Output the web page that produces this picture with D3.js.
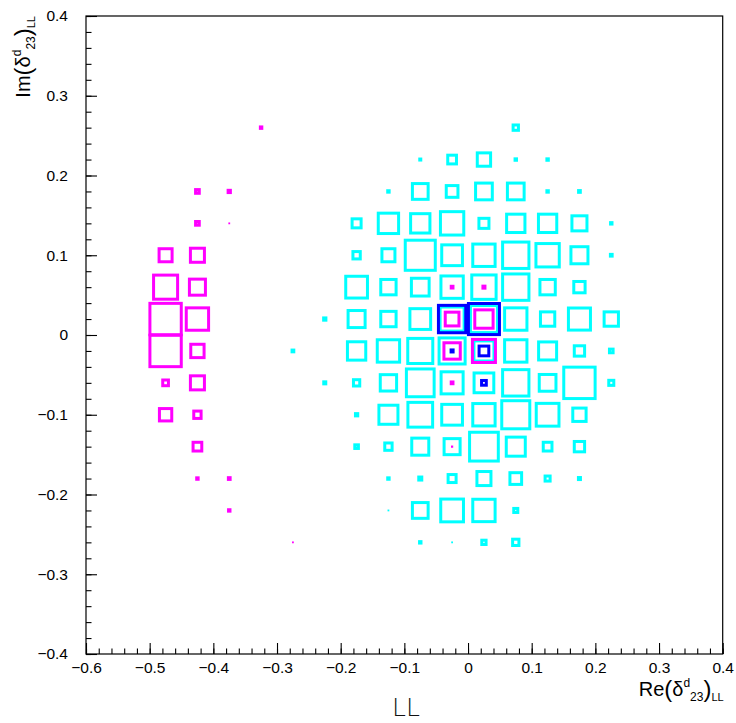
<!DOCTYPE html>
<html><head><meta charset="utf-8">
<script src="https://cdn.jsdelivr.net/npm/d3@7"></script>
<style>body{margin:0;background:#fff}svg{display:block}</style>
</head><body>
<svg id="c" width="736" height="723"></svg>
<script>
// ---- data ----
const xDomain = [-0.6, 0.4];
const yDomain = [-0.4, 0.4];
const xTicks = [-0.6,-0.5,-0.4,-0.3,-0.2,-0.1,0,0.1,0.2,0.3,0.4];
const yTicks = [-0.4,-0.3,-0.2,-0.1,0,0.1,0.2,0.3,0.4];
const xBinWidth = 0.05, yBinWidth = 0.04;
const maxContent = 100;
// [x bin centre, y bin centre, bin content]
const cyanBins = [
 [0.075,0.26,2.8],
 [-0.075,0.22,0.1],[-0.025,0.22,7.5],[0.025,0.22,17.5],[0.075,0.22,0.2],[0.125,0.22,0.2],
 [-0.125,0.18,0.2],[-0.075,0.18,24.4],[-0.025,0.18,13.5],[0.025,0.18,27.6],[0.075,0.18,27.6],[0.125,0.18,0.2],[0.175,0.18,0.3],
 [-0.175,0.14,8.0],[-0.125,0.14,40.8],[-0.075,0.14,36.8],[-0.025,0.14,53.7],[0.025,0.14,9.9],[0.075,0.14,33.1],[0.125,0.14,33.1],[0.175,0.14,22.3],[0.225,0.14,0.2],
 [-0.175,0.10,5.3],[-0.125,0.10,16.7],[-0.075,0.10,89],[-0.025,0.10,42.4],[0.025,0.10,49.2],[0.075,0.10,68.4],[0.125,0.10,53.7],[0.175,0.10,28.6],[0.225,0.10,0.3],
 [-0.175,0.06,46.6],[-0.125,0.06,23.2],[-0.075,0.06,31],[-0.025,0.06,49.2],[0.025,0.06,58.4],[0.075,0.06,68.4],[0.125,0.06,23.2],[0.175,0.06,12.6],
 [-0.225,0.02,0.5],[-0.175,0.02,28.6],[-0.125,0.02,23.2],[-0.075,0.02,42.4],[-0.025,0.02,57],[0.025,0.02,72],[0.075,0.02,49.2],[0.125,0.02,20.2],[0.175,0.02,47.9],[0.225,0.02,20.2],
 [-0.275,-0.02,0.3],[-0.175,-0.02,33.1],[-0.125,-0.02,49.2],[-0.075,-0.02,61.8],[-0.025,-0.02,66.9],[0.025,-0.02,39.6],[0.075,-0.02,49.2],[0.125,-0.02,32],[0.175,-0.02,10.5],[0.225,-0.02,1.3],
 [-0.225,-0.06,0.4],[-0.175,-0.06,3.9],[-0.125,-0.06,26.3],[-0.075,-0.06,75.9],[-0.025,-0.06,47.9],[0.025,-0.06,38.4],[0.075,-0.06,68.4],[0.125,-0.06,27.6],[0.175,-0.06,97],[0.225,-0.06,2.5],
 [-0.175,-0.10,0.5],[-0.125,-0.10,35.7],[-0.075,-0.10,60.3],[-0.025,-0.10,42.4],[0.025,-0.10,49.2],[0.075,-0.10,77.5],[0.125,-0.10,51],[0.175,-0.10,17.5],
 [-0.175,-0.14,1.3],[-0.125,-0.14,5.3],[-0.075,-0.14,28.6],[-0.025,-0.14,25.3],[0.025,-0.14,81.5],[0.075,-0.14,35.7],[0.125,-0.14,7.5],[0.175,-0.14,10.5],
 [-0.125,-0.18,0.2],[-0.075,-0.18,0.9],[-0.025,-0.18,6.3],[0.025,-0.18,19.4],[0.075,-0.18,13.5],[0.125,-0.18,2.5],[0.175,-0.18,0.4],
 [-0.125,-0.22,0.02],[-0.075,-0.22,24.4],[-0.025,-0.22,51],[0.025,-0.22,49.2],[0.075,-0.22,1.6],
 [-0.075,-0.26,0.2],[-0.025,-0.26,0.02],[0.025,-0.26,1.8],[0.075,-0.26,3.9]
];
const magentaBins = [
 [-0.325,0.26,0.2],
 [-0.425,0.18,1.35],[-0.375,0.18,0.5],
 [-0.425,0.14,1.35],[-0.375,0.14,0.02],
 [-0.475,0.10,16.7],[-0.425,0.10,19.4],
 [-0.475,0.06,57],[-0.425,0.06,25.3],
 [-0.475,0.02,97],[-0.425,0.02,49.2],
 [-0.475,-0.02,97],[-0.425,-0.02,17.5],
 [-0.475,-0.06,3.2],[-0.425,-0.06,19.4],
 [-0.475,-0.10,15],[-0.425,-0.10,5.3],
 [-0.425,-0.14,7.5],
 [-0.425,-0.18,0.2],[-0.375,-0.18,0.3],
 [-0.375,-0.22,0.2],
 [-0.275,-0.26,0.02],
 [-0.025,0.06,0.3],[0.025,0.06,0.4],
 [-0.025,0.02,18.6],[0.025,0.02,33.1],
 [-0.025,-0.02,26.3],[0.025,-0.02,52.3],
 [-0.025,-0.06,0.3],
 [-0.025,-0.14,0.03]
];
const blueBins = [
 [-0.025,0.02,73.7],[0.025,0.02,95],
 [-0.025,-0.02,0.4],[0.025,-0.02,9.3],
 [0.025,-0.06,2.2]
];
const series = [
 {name:"cyan", color:"#00ffff", bins:cyanBins},
 {name:"magenta", color:"#ff00ff", bins:magentaBins},
 {name:"blue", color:"#0000ff", bins:blueBins}
];

// ---- layout ----
const svg = d3.select("#c");
const L = 86, R = 722.7, T = 16, B = 654;
const x = d3.scaleLinear().domain(xDomain).range([L, R]);
const y = d3.scaleLinear().domain(yDomain).range([B, T]);
const font = "'Liberation Sans', Arial, sans-serif";
const fmt = v => Math.abs(v) < 1e-9 ? "0" : d3.format(".1f")(v);

// boxes
const size = d3.scaleSqrt().domain([0, maxContent]).range([0, 1]);
const bw = x(xBinWidth) - x(0), bh = y(0) - y(yBinWidth);
series.forEach(s => {
  svg.append("g").selectAll("rect").data(s.bins).join("rect")
    .attr("x", d => x(d[0]) - bw*size(d[2])/2)
    .attr("y", d => y(d[1]) - bh*size(d[2])/2)
    .attr("width", d => bw*size(d[2]))
    .attr("height", d => bh*size(d[2]))
    .attr("fill", "none")
    .attr("stroke", s.color)
    .attr("stroke-width", d => Math.min(3, bw*size(d[2])*3));
});

// frame
svg.append("rect").attr("x", L).attr("y", T).attr("width", R-L).attr("height", B-T)
  .attr("fill","none").attr("stroke","#000").attr("stroke-width",1.2);

// axes
const minorX = d3.range(-0.6, 0.4001, 0.02);
const minorY = d3.range(-0.4, 0.4001, 0.02);
const gx = svg.append("g").attr("transform", `translate(0,${B})`)
  .call(d3.axisBottom(x).tickValues(xTicks).tickFormat(fmt).tickSize(-11).tickPadding(8));
const gxm = svg.append("g").attr("transform", `translate(0,${B})`)
  .call(d3.axisBottom(x).tickValues(minorX).tickFormat("").tickSize(-5.5));
const gy = svg.append("g").attr("transform", `translate(${L},0)`)
  .call(d3.axisLeft(y).tickValues(yTicks).tickFormat(fmt).tickSize(-11).tickPadding(18));
const gym = svg.append("g").attr("transform", `translate(${L},0)`)
  .call(d3.axisLeft(y).tickValues(minorY).tickFormat("").tickSize(-5.5));
[gx,gxm,gy,gym].forEach(g => {
  g.select(".domain").remove();
  g.selectAll("line").attr("stroke","#000").attr("stroke-width",1.1);
  g.selectAll("text").attr("font-family", font).attr("font-size", 15.5).attr("fill","#000");
});

// titles
function title(prefix) {
  const t = svg.append("text").attr("font-family", font).attr("fill","#000").attr("font-size", 20);
  t.append("tspan").text(prefix);
  t.append("tspan").attr("font-size", 24).attr("dy", 1).text("(");
  t.append("tspan").attr("font-size", 20).attr("dy", -1).text("δ");
  t.append("tspan").attr("font-size", 12).attr("dy", -9).text("d");
  t.append("tspan").attr("font-size", 12).attr("dy", 14).text("23");
  t.append("tspan").attr("font-size", 24).attr("dy", -4).text(")");
  t.append("tspan").attr("font-size", 11).attr("dy", 4).text("LL");
  return t;
}
title("Re").attr("text-anchor","end").attr("transform", `translate(${R+1},696)`);
title("Im").attr("text-anchor","end").attr("transform", `translate(30,${T}) rotate(-90)`);

svg.append("text").attr("x", 406).attr("y", 716).attr("text-anchor","middle")
  .attr("font-family", "'DejaVu Sans', sans-serif").attr("font-weight", 200)
  .attr("font-size", 25).attr("fill","#111").text("LL");
</script>
</body></html>
